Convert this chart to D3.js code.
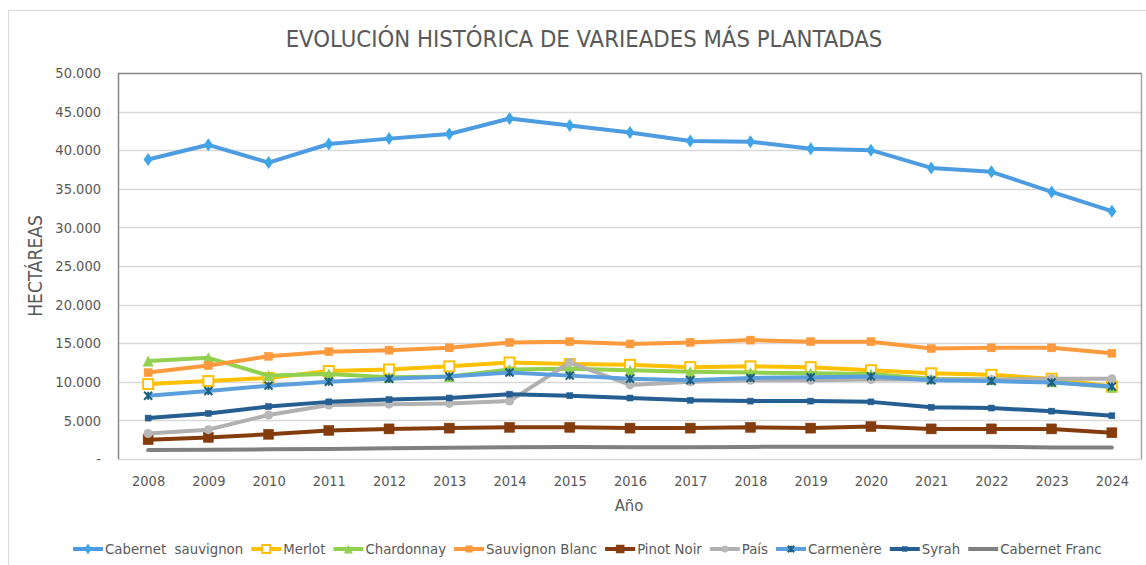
<!DOCTYPE html>
<html lang="es">
<head>
<meta charset="utf-8">
<title>Evolución histórica</title>
<style>
  body {
    margin: 0;
    padding: 0;
    background: #fff;
    overflow: hidden;
  }
  text {
    font-family: "DejaVu Sans Condensed", "DejaVu Sans", Verdana, sans-serif;
    fill: #595959;
  }
</style>
<script src="https://cdn.jsdelivr.net/npm/d3@7"></script>
</head>
<body>
<script>

var years = ["2008","2009","2010","2011","2012","2013","2014","2015","2016","2017","2018","2019","2020","2021","2022","2023","2024"];
var yTicks = [0, 5000, 10000, 15000, 20000, 25000, 30000, 35000, 40000, 45000, 50000];

var cabSauv   = [38800, 40700, 38400, 40800, 41500, 42100, 44100, 43200, 42300, 41200, 41100, 40200, 40000, 37700, 37200, 34600, 32100];
var merlot    = [9700, 10100, 10500, 11400, 11600, 12000, 12500, 12300, 12200, 11900, 12000, 11900, 11500, 11100, 10900, 10400, 9400];
var chard     = [12700, 13100, 10800, 11000, 10600, 10700, 11600, 11700, 11500, 11300, 11200, 11100, 11000, 10400, 10300, 10000, 9300];
var sauvBlanc = [11200, 12100, 13300, 13900, 14100, 14400, 15100, 15200, 14900, 15100, 15400, 15200, 15200, 14300, 14400, 14400, 13700];
var pinot     = [2500, 2800, 3200, 3700, 3900, 4000, 4100, 4100, 4000, 4000, 4100, 4000, 4200, 3900, 3900, 3900, 3400];
var pais      = [3300, 3800, 5700, 7000, 7100, 7200, 7500, 12500, 9600, 10000, 10200, 10200, 10300, 10300, 10300, 10400, 10400];
var carmenere = [8200, 8800, 9500, 10000, 10400, 10700, 11200, 10800, 10400, 10200, 10500, 10600, 10700, 10200, 10100, 9900, 9400];
var syrah     = [5300, 5900, 6800, 7400, 7700, 7900, 8400, 8200, 7900, 7600, 7500, 7500, 7400, 6700, 6600, 6200, 5600];
var cabFranc  = [1150, 1200, 1250, 1300, 1380, 1450, 1520, 1550, 1520, 1530, 1570, 1580, 1600, 1600, 1580, 1500, 1480];

var seriesNames = ["Cabernet  sauvignon", "Merlot", "Chardonnay", "Sauvignon Blanc", "Pinot Noir", "País", "Carmenère", "Syrah", "Cabernet Franc"];

var series = [
  {name: seriesNames[0], values: cabSauv,   line: "#4d9be0", marker: "diamond",  mfill: "#3ea6e6", mstroke: "#3ea6e6", size: 11},
  {name: seriesNames[1], values: merlot,    line: "#ffc000", marker: "square",   mfill: "#ffffff", mstroke: "#ffc000", size: 10, hollow: true},
  {name: seriesNames[2], values: chard,     line: "#92d050", marker: "triangle", mfill: "#92d050", mstroke: "#92d050", size: 11},
  {name: seriesNames[3], values: sauvBlanc, line: "#fd9a3e", marker: "square",   mfill: "#fd9a3e", mstroke: "#fd9a3e", size: 8},
  {name: seriesNames[4], values: pinot,     line: "#843c0c", marker: "square",   mfill: "#843c0c", mstroke: "#843c0c", size: 10},
  {name: seriesNames[5], values: pais,      line: "#b0b0b0", marker: "circle",   mfill: "#b8b8b8", mstroke: "#b8b8b8", size: 9},
  {name: seriesNames[6], values: carmenere, line: "#5ba0dc", marker: "star",     mfill: "#1d5f80", mstroke: "#1d5f80", size: 8},
  {name: seriesNames[7], values: syrah,     line: "#255e91", marker: "square",   mfill: "#255e91", mstroke: "#255e91", size: 6},
  {name: seriesNames[8], values: cabFranc,  line: "#808080", marker: "none"}
];

var W = 1146, H = 565;
var plotLeft = 118, plotRight = 1142, plotTop = 73, plotBottom = 459;

svg = d3.select("body").append("svg")
  .attr("width", W)
  .attr("height", H);

// chart frame
svg.append("rect")
  .attr("x", 8.5).attr("y", 10.5)
  .attr("width", W + 10).attr("height", H + 10)
  .attr("fill", "none")
  .attr("stroke", "#d9d9d9");

var x = d3.scalePoint().domain(years).range([plotLeft, plotRight]).padding(0.5);
var y = d3.scaleLinear().domain([0, 50000]).range([plotBottom, plotTop]);

// gridlines
svg.append("g").selectAll("line")
  .data(yTicks.filter(function(d){ return d > 0 && d < 50000; }))
  .enter().append("line")
  .attr("x1", plotLeft).attr("x2", plotRight)
  .attr("y1", function(d){ return Math.round(y(d)) + 0.5; })
  .attr("y2", function(d){ return Math.round(y(d)) + 0.5; })
  .attr("stroke", "#d9d9d9")
  .attr("stroke-width", 1.5);

// plot frame
svg.append("line").attr("x1", plotLeft).attr("x2", plotRight).attr("y1", plotBottom + 0.5).attr("y2", plotBottom + 0.5)
  .attr("stroke", "#d9d9d9").attr("stroke-width", 1.5);
svg.append("line").attr("x1", plotLeft + 0.5).attr("x2", plotLeft + 0.5).attr("y1", plotTop).attr("y2", plotBottom)
  .attr("stroke", "#868686").attr("stroke-width", 1.5);
svg.append("line").attr("x1", plotLeft).attr("x2", plotRight).attr("y1", plotTop + 0.5).attr("y2", plotTop + 0.5)
  .attr("stroke", "#868686").attr("stroke-width", 1.5);
svg.append("line").attr("x1", plotRight - 0.5).attr("x2", plotRight - 0.5).attr("y1", plotTop).attr("y2", plotBottom)
  .attr("stroke", "#a6a6a6").attr("stroke-width", 1.5);

// y axis
var fmt = function(d){ return d === 0 ? "-" : d3.format(",")(d).replace(/,/g, "."); };
var yAxis = svg.append("g")
  .attr("transform", "translate(" + plotLeft + ",0)")
  .call(d3.axisLeft(y).tickValues(yTicks).tickFormat(fmt).tickSize(0).tickPadding(17));
yAxis.select(".domain").remove();
yAxis.selectAll("text")
  .style("font-size", "14.5px")
  .attr("fill", "#595959");

// x axis
var xAxis = svg.append("g")
  .attr("transform", "translate(0," + plotBottom + ")")
  .call(d3.axisBottom(x).tickSize(0).tickPadding(17));
xAxis.select(".domain").remove();
xAxis.selectAll("text")
  .style("font-size", "14.5px")
  .attr("fill", "#595959");

// titles
svg.append("text")
  .attr("x", 584).attr("y", 47)
  .attr("text-anchor", "middle")
  .style("font-size", "23.7px")
  .text("EVOLUCIÓN HISTÓRICA DE VARIEADES MÁS PLANTADAS");

svg.append("text")
  .attr("transform", "translate(42,266) rotate(-90)")
  .attr("text-anchor", "middle")
  .style("font-size", "19px")
  .text("HECTÁREAS");

svg.append("text")
  .attr("x", 629).attr("y", 511)
  .attr("text-anchor", "middle")
  .style("font-size", "16.5px")
  .text("Año");

function drawMarker(g, s, cx, cy, scale) {
  var r = (s.size || 8) * (scale || 1);
  var h = r / 2;
  if (s.marker === "diamond") {
    g.append("path")
      .attr("d", "M" + cx + "," + (cy - h - 1) + "L" + (cx + h - 1) + "," + cy + "L" + cx + "," + (cy + h + 1) + "L" + (cx - h + 1) + "," + cy + "Z")
      .attr("fill", s.mfill);
  } else if (s.marker === "square") {
    g.append("rect")
      .attr("x", cx - h).attr("y", cy - h)
      .attr("width", r).attr("height", r)
      .attr("fill", s.mfill)
      .attr("stroke", s.mstroke)
      .attr("stroke-width", s.hollow ? 2 : 0.5);
  } else if (s.marker === "triangle") {
    g.append("path")
      .attr("d", "M" + cx + "," + (cy - h) + "L" + (cx + h) + "," + (cy + h) + "L" + (cx - h) + "," + (cy + h) + "Z")
      .attr("fill", s.mfill);
  } else if (s.marker === "circle") {
    g.append("circle")
      .attr("cx", cx).attr("cy", cy).attr("r", h)
      .attr("fill", s.mfill);
  } else if (s.marker === "star") {
    g.append("path")
      .attr("d", "M" + (cx - h) + "," + (cy - h) + "L" + (cx + h) + "," + (cy + h) +
                 "M" + (cx + h) + "," + (cy - h) + "L" + (cx - h) + "," + (cy + h) +
                 "M" + cx + "," + (cy - h) + "L" + cx + "," + (cy + h))
      .attr("stroke", s.mstroke)
      .attr("stroke-width", 2)
      .attr("fill", "none");
  }
}

var line = d3.line()
  .x(function(d, i){ return x(years[i]); })
  .y(function(d){ return y(d); });

series.forEach(function(s) {
  var g = svg.append("g");
  g.append("path")
    .datum(s.values)
    .attr("d", line)
    .attr("fill", "none")
    .attr("stroke", s.line)
    .attr("stroke-width", 4)
    .attr("stroke-linejoin", "round")
    .attr("stroke-linecap", "round");
  s.values.forEach(function(v, i) {
    drawMarker(g, s, x(years[i]), y(v));
  });
});

// legend
var legend = svg.append("g");
var lx = 73, ly = 549;
series.forEach(function(s) {
  var item = legend.append("g");
  item.append("line")
    .attr("x1", lx).attr("x2", lx + 30)
    .attr("y1", ly).attr("y2", ly)
    .attr("stroke", s.line)
    .attr("stroke-width", 4);
  drawMarker(item, s, lx + 15, ly, 0.8);
  var t = item.append("text")
    .attr("x", lx + 32).attr("y", ly + 5)
    .style("font-size", "14.8px")
    .attr("xml:space", "preserve")
    .text(s.name);
  lx = lx + 32 + t.node().getComputedTextLength() + 8;
});

</script>
</body>
</html>
